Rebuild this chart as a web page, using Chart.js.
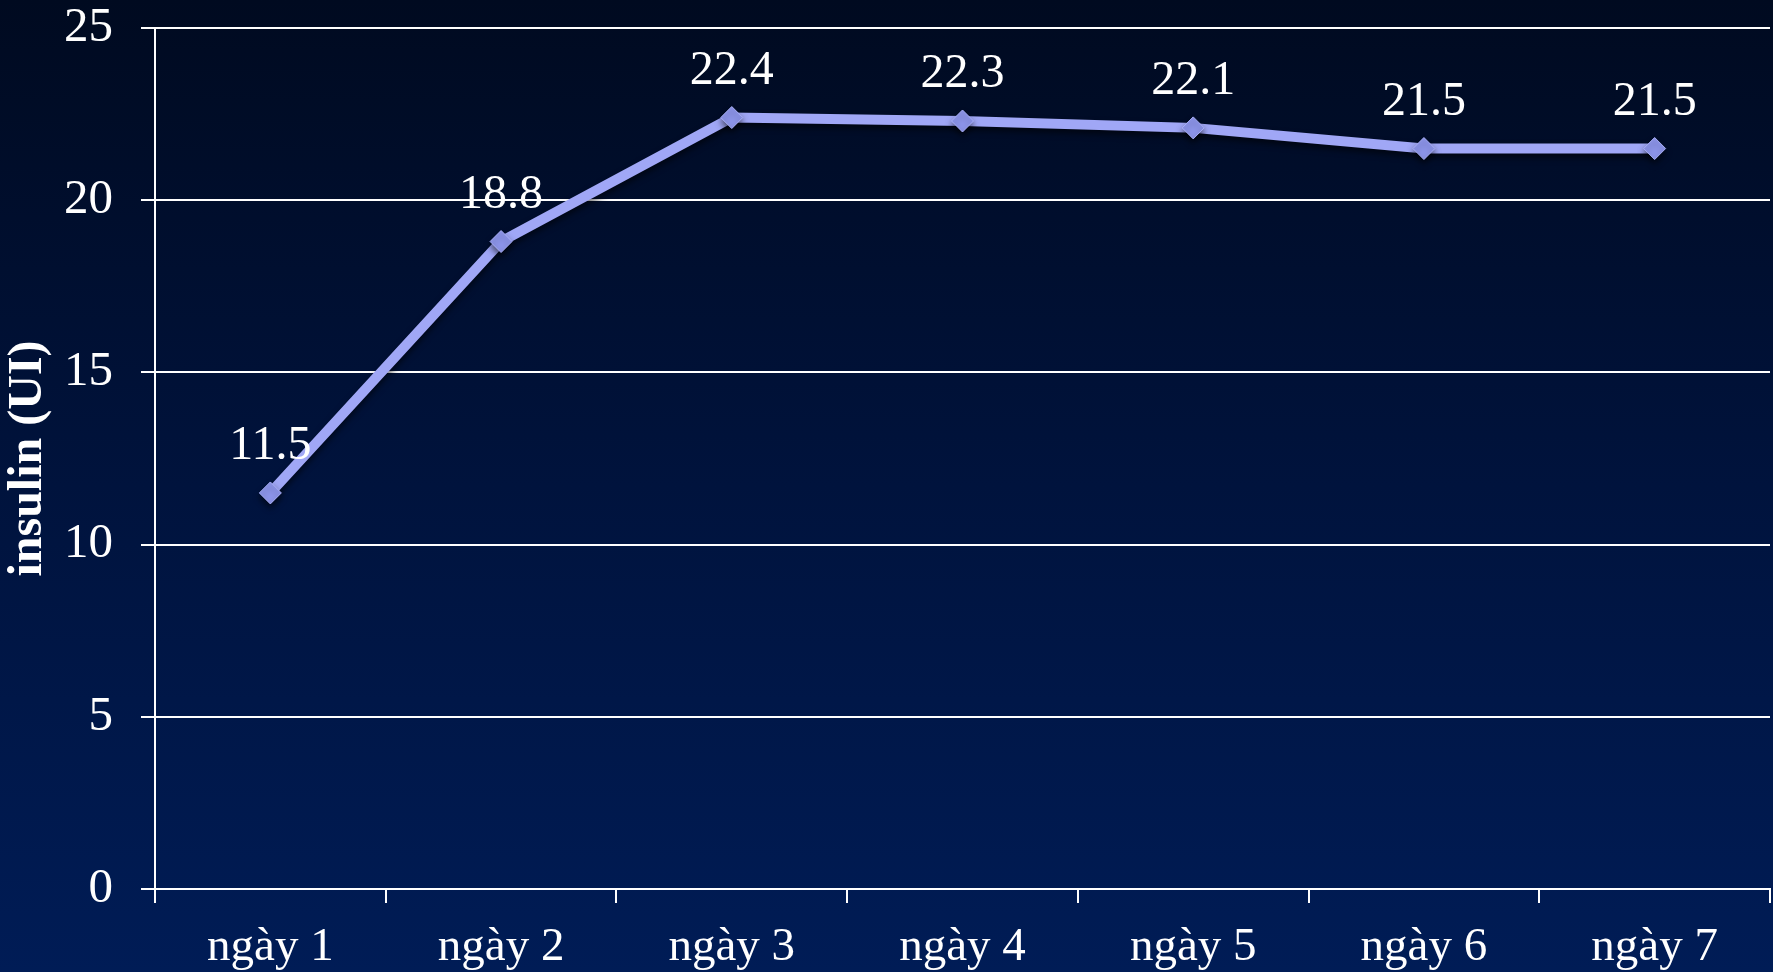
<!DOCTYPE html>
<html>
<head>
<meta charset="utf-8">
<script src="https://cdn.jsdelivr.net/npm/chart.js@4.4.1/dist/chart.umd.min.js"></script>
<style>
  html, body {
    margin: 0;
    padding: 0;
    width: 1773px;
    height: 972px;
    overflow: hidden;
    background: linear-gradient(to bottom, #000a20 0%, #00133d 50%, #001c56 100%);
  }
  canvas { display: block; }
</style>
</head>
<body>
<canvas id="insulinChart" width="1773" height="972"></canvas>
<script>
// daily insulin dose
const days = ["ngày 1", "ngày 2", "ngày 3", "ngày 4", "ngày 5", "ngày 6", "ngày 7"];
const insulin = [11.5, 18.8, 22.4, 22.3, 22.1, 21.5, 21.5];
const yTicks = [0, 5, 10, 15, 20, 25];

const serif = "'Liberation Serif', 'Times New Roman', serif";

// soft shadow under the line, then the value written above each point
const valueLabels = {
   id: "valueLabels",
   beforeDatasetDraw(chart) {
      const ctx = chart.ctx;
      ctx.save();
      ctx.shadowColor = "rgba(0, 0, 0, 0.55)";
      ctx.shadowBlur = 6;
      ctx.shadowOffsetY = 4;
   },
   afterDatasetDraw(chart) {
      chart.ctx.restore();
   },
   afterDatasetsDraw(chart) {
      const ctx = chart.ctx;
      const meta = chart.getDatasetMeta(0);
      ctx.save();
      ctx.fillStyle = "#ffffff";
      ctx.font = "48px " + serif;
      ctx.textAlign = "center";
      ctx.textBaseline = "alphabetic";
      meta.data.forEach((pt, i) => {
         ctx.fillText(String(insulin[i]), pt.x, pt.y - 34);
      });
      ctx.restore();
   }
};

const ctx = document.getElementById("insulinChart").getContext("2d");
new Chart(ctx, {
   type: "line",
   data: {
      labels: days,
      datasets: [{
         data: insulin,
         borderColor: "#a0a7f6",
         borderWidth: 10,
         pointStyle: "rectRot",
         pointRadius: 11,
         pointBackgroundColor: "#8d95ea",
         pointBorderColor: "#a9b0f8",
         pointBorderWidth: 1,
         tension: 0
      }]
   },
   options: {
      responsive: false,
      animation: false,
      events: [],
      layout: { autoPadding: false, padding: { top: 28, right: 3, left: 0, bottom: 0 } },
      plugins: {
         legend: { display: false },
         tooltip: { enabled: false }
      },
      scales: {
         x: {
            offset: true,
            grid: {
               offset: true,
               drawOnChartArea: false,
               drawTicks: true,
               tickLength: 14,
               color: "#ffffff",
               lineWidth: 2
            },
            border: { display: true, color: "#ffffff", width: 2 },
            ticks: {
               color: "#ffffff",
               font: { family: serif, size: 47 },
               padding: 16,
               maxRotation: 0
            },
            afterFit(scale) {
               scale.height = 83;
               scale.paddingLeft = 0;
               scale.paddingRight = 0;
            }
         },
         y: {
            min: 0,
            max: 25,
            afterBuildTicks(scale) {
               scale.ticks = yTicks.map(v => ({ value: v }));
            },
            grid: {
               drawTicks: true,
               tickLength: 14,
               color: "#ffffff",
               lineWidth: 2
            },
            border: { display: true, color: "#ffffff", width: 2 },
            ticks: {
               color: "#ffffff",
               font: { family: serif, size: 49 },
               padding: 28
            },
            title: {
               display: true,
               text: "insulin (UI)",
               color: "#ffffff",
               font: { family: serif, size: 48, weight: "bold" },
               padding: 0
            },
            afterFit(scale) {
               scale.width = 155;
               scale.paddingTop = 0;
               scale.paddingBottom = 0;
            }
         }
      }
   },
   plugins: [valueLabels]
});
</script>
</body>
</html>
